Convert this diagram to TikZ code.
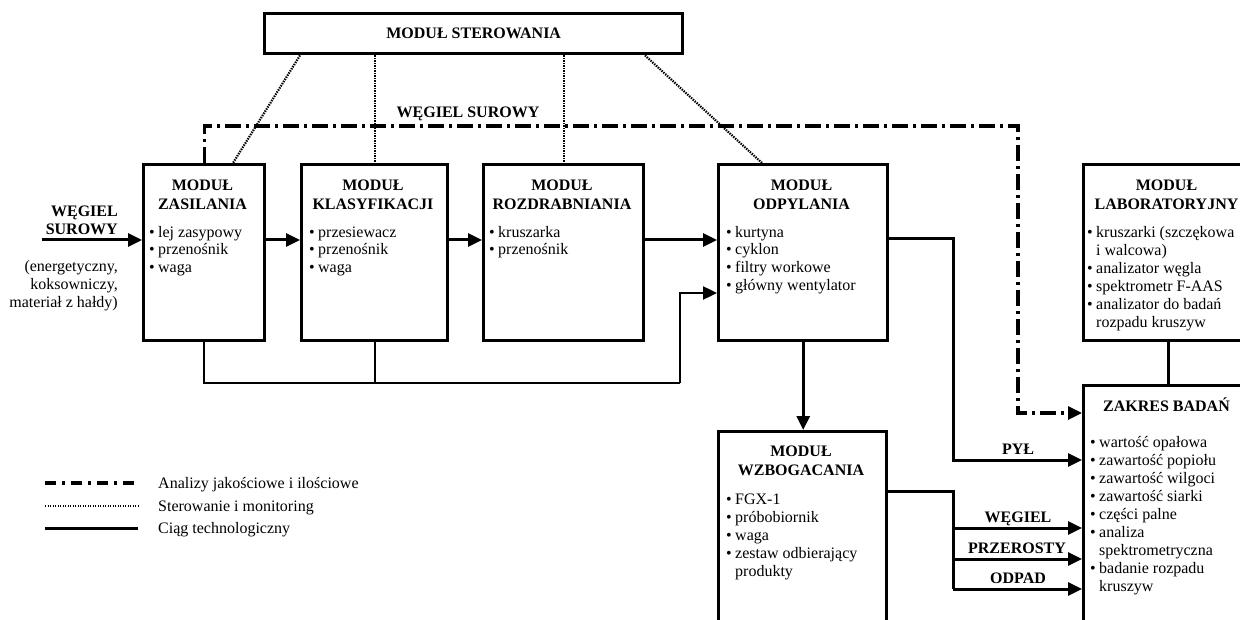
\documentclass[tikz,border=0pt]{standalone}
\usepackage{fontspec}
\setmainfont{Liberation Serif}
\usetikzlibrary{arrows.meta}
\newcommand\bul{\makebox[9pt][l]{\textbullet}}
\newcommand\ind{\hspace*{9pt}}
\begin{document}
\begin{tikzpicture}[x=1pt,y=-1pt,
  box/.style={draw,line width=3.4pt,anchor=north west,inner sep=0pt},
  ttl/.style={font=\bfseries\fontsize{16}{19}\selectfont,align=center,inner sep=0pt,anchor=north},
  txt/.style={font=\fontsize{16}{17.8}\selectfont,align=left,inner sep=0pt,anchor=north west},
  txtb/.style={font=\fontsize{16}{18}\selectfont,align=left,inner sep=0pt,anchor=north west},
  flowlbl/.style={font=\bfseries\fontsize{16}{18}\selectfont,inner sep=0pt,anchor=base},
  tip/.style={-{Triangle[length=14pt,width=13pt]}},
  flow/.style={line width=3pt,tip},
  wire/.style={line width=3pt},
  thinwire/.style={line width=2.4pt},
  ctrl/.style={line width=2.2pt,dash pattern=on 1.4pt off 1.1pt},
  qa/.style={line width=3.2pt,dash pattern=on 16pt off 5pt on 3pt off 5pt},
  qaleg/.style={line width=3.2pt,dash pattern=on 11pt off 6pt on 3pt off 6pt},
  legtxt/.style={font=\fontsize{16}{18}\selectfont,inner sep=0pt,anchor=base west}]
\useasboundingbox (0,0) rectangle (1240,620);
\fill[white] (0,0) rectangle (1240,620);
\clip (0,0) rectangle (1240,620);

% boxes
\node[box,minimum width=418pt,minimum height=40pt,font=\bfseries\fontsize{16}{19}\selectfont] (ster) at (263,12) {MODUŁ STEROWANIA};
\node[box,minimum width=121pt,minimum height=176pt] (zas) at (142,163) {};
\node[box,minimum width=146pt,minimum height=176pt] (kla) at (300,163) {};
\node[box,minimum width=160pt,minimum height=176pt] (roz) at (482,163) {};
\node[box,minimum width=169pt,minimum height=176pt] (odp) at (717,163) {};
\node[box,minimum width=169pt,minimum height=176pt] (lab) at (1082,163) {};
\node[box,minimum width=169pt,minimum height=260pt] (zak) at (1082,384) {};
\node[box,minimum width=168pt,minimum height=220pt] (wzb) at (717,430) {};

% titles
\node[ttl] (zasT) at (202.5,176.7) {\strut MODUŁ\\ZASILANIA};
\node[ttl] (klaT) at (373,176.7) {\strut MODUŁ\\KLASYFIKACJI};
\node[ttl] (rozT) at (562,176.7) {\strut MODUŁ\\ROZDRABNIANIA};
\node[ttl] (odpT) at (801.5,176.7) {\strut MODUŁ\\ODPYLANIA};
\node[ttl] (labT) at (1166.5,176.7) {\strut MODUŁ\\LABORATORYJNY};
\node[ttl] (wzbT) at (801,442.7) {\strut MODUŁ\\WZBOGACANIA};
\node[ttl] (zakT) at (1166.5,397.7) {\strut ZAKRES BADAŃ};

% contents
\node[txt] (zasL) at (149,224.5) {\strut\bul lej zasypowy\\\bul przenośnik\\\bul waga};
\node[txt] (klaL) at (309,224.5) {\strut\bul przesiewacz\\\bul przenośnik\\\bul waga};
\node[txt] (rozL) at (489,224.5) {\strut\bul kruszarka\\\bul przenośnik};
\node[txt] (odpL) at (726,224.5) {\strut\bul kurtyna\\\bul cyklon\\\bul filtry workowe\\\bul główny wentylator};
\node[txtb] (labL) at (1087,224.4) {\strut\bul kruszarki (szczękowa\\\ind i walcowa)\\\bul analizator węgla\\\bul spektrometr F-AAS\\\bul analizator do badań\\\ind rozpadu kruszyw};
\node[txtb] (wzbL) at (726,491.4) {\strut\bul FGX-1\\\bul próbobiornik\\\bul waga\\\bul zestaw odbierający\\\ind produkty};
\node[txtb] (zakL) at (1090,434.4) {\strut\bul wartość opałowa\\\bul zawartość popiołu\\\bul zawartość wilgoci\\\bul zawartość siarki\\\bul części palne\\\bul analiza\\\ind spektrometryczna\\\bul badanie rozpadu\\\ind kruszyw};

% input labels
\node[font=\bfseries\fontsize{16}{18}\selectfont,align=right,anchor=north east,inner sep=0pt] (inlbl) at (118,203.4) {\strut WĘGIEL\\SUROWY};
\node[font=\fontsize{16}{18}\selectfont,align=right,anchor=north east,inner sep=0pt] (innote) at (118,258.4) {\strut(energetyczny,\\koksowniczy,\\materiał z hałdy)};

% flow labels
\node[flowlbl] (lsur) at (468,118) {WĘGIEL SUROWY};
\node[flowlbl] (lpyl) at (1018,454) {PYŁ};
\node[flowlbl] (lwe) at (1018,522) {WĘGIEL};
\node[flowlbl] (lpr) at (1017,553) {PRZEROSTY};
\node[flowlbl] (lod) at (1018,583) {ODPAD};

% helper coordinates
\coordinate (src) at (42,240);
\coordinate (yin) at (0,240);
\coordinate (yin2) at (0,293);
\coordinate (lb) at (680,383);
\coordinate (rail) at (953,0);
\coordinate (yodp) at (0,239);
\coordinate (ypyl) at (0,460);
\coordinate (yout) at (0,491);
\coordinate (ywe) at (0,528);
\coordinate (ypr) at (0,559);
\coordinate (yod) at (0,589);
\coordinate (qc) at (1018,126);
\coordinate (ylab) at (0,413);

% technological chain
\draw[flow] (src) -- (src -| zas.west);
\draw[flow] (zas.east |- yin) -- (kla.west |- yin);
\draw[flow] (kla.east |- yin) -- (roz.west |- yin);
\draw[flow] (roz.east |- yin) -- (odp.west |- yin);
\draw[thinwire] (zas.south) |- (lb);
\draw[thinwire] (kla.south) -- (kla.south |- lb);
\draw[thinwire,tip] (lb) |- (odp.west |- yin2);
\draw[flow] (odp.south) -- (odp.south |- wzb.north);
\draw[flow] (odp.east |- yodp) -| (rail |- ypyl) -- (zak.west |- ypyl);
\draw[wire] (wzb.east |- yout) -| (rail |- yod);
\draw[flow] (rail |- ywe) -- (zak.west |- ywe);
\draw[flow] (rail |- ypr) -- (zak.west |- ypr);
\draw[flow] (rail |- yod) -- (zak.west |- yod);
\draw[wire] (lab.south) -- (zak.north);

% analyses
\draw[qa,tip] (zas.north) |- (qc) |- (zak.west |- ylab);

% control
\draw[ctrl] ([xshift=37pt]ster.south west) -- ([xshift=91pt]zas.north west);
\draw[ctrl] (kla.north |- ster.south) -- (kla.north);
\draw[ctrl] (roz.north |- ster.south) -- (roz.north);
\draw[ctrl] ([xshift=382pt]ster.south west) -- ([xshift=45pt]odp.north west);

% legend
\draw[qaleg] (45,483) -- (138,483);
\draw[ctrl] (45,506) -- (138,506);
\draw[wire] (45,528) -- (138,528);
\node[legtxt] (lg1) at (158,488) {Analizy jakościowe i ilościowe};
\node[legtxt] (lg2) at (158,511) {Sterowanie i monitoring};
\node[legtxt] (lg3) at (158,533) {Ciąg technologiczny};
\end{tikzpicture}
\end{document}
